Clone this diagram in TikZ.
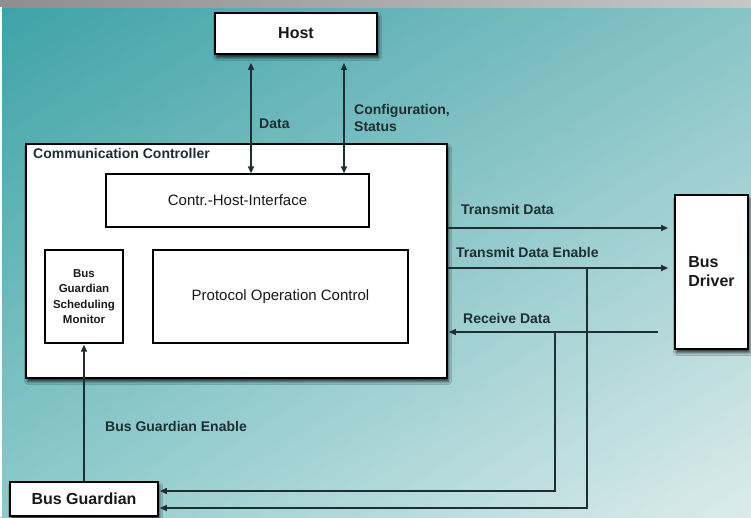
\documentclass[tikz,border=0pt]{standalone}
\usepackage{fontspec}
\setmainfont{Liberation Sans}
\usetikzlibrary{arrows.meta,shadows.blur,shadings,calc}

\definecolor{ink}{HTML}{1E2E33}
\definecolor{bgUL}{HTML}{3DA2A7}
\definecolor{bgUR}{HTML}{86C3C5}
\definecolor{bgLL}{HTML}{8DCACB}
\definecolor{bgLR}{HTML}{DCEBEC}
\definecolor{barL}{HTML}{8E8E8E}
\definecolor{barR}{HTML}{C6C6C6}

\begin{document}
\begin{tikzpicture}[x=1pt,y=-1pt,
  box/.style={draw=black, line width=1.3pt, fill=white, inner sep=0pt,
    text=black!90, font=\fontsize{15}{18}\selectfont},
  outer/.style={box, line width=1.8pt,
    blur shadow={shadow xshift=1.5pt, shadow yshift=-3.5pt,
      shadow blur radius=3pt, shadow blur steps=6, shadow opacity=80}},
  bold16/.style={font=\bfseries\fontsize{16}{19}\selectfont},
  link/.style={draw=ink, line width=1.3pt},
  tip/.style={-{Triangle[length=7pt,width=6pt]}},
  lab/.style={font=\bfseries\fontsize{14}{17}\selectfont, text=ink,
    inner sep=0pt, anchor=west, align=left},
]
% page background: teal gradient, grey title bar, thin white edge
\useasboundingbox (0,0) rectangle (751,517);
\shade[upper left=bgUL, upper right=bgUR, lower left=bgLL, lower right=bgLR]
  (0,0) rectangle (751,517);
\shade[left color=barL, right color=barR] (0,0) rectangle (751,7);
\fill[white] (0,7) rectangle (2,517);

% blocks
\node[outer, bold16, minimum width=162pt, minimum height=41pt] (host) at (296,33.5) {Host};
\node[outer, minimum width=421pt, minimum height=234pt] (cc) at (236.5,261) {};
\node[lab] (cclab) at (33,153) {Communication Controller};
\node[box, minimum width=263pt, minimum height=53pt] (chi) at (237.5,200.5) {Contr.-Host-Interface};
\node[box, align=center, font=\bfseries\fontsize{11.5}{15.5}\selectfont,
  minimum width=78pt, minimum height=93pt] (bgsm) at (84,296.5)
  {Bus\\Guardian\\Scheduling\\Monitor};
\node[box, minimum width=255pt, minimum height=93pt] (poc) at (280.5,296.5) {Protocol Operation Control};
\node[outer, bold16, align=left, minimum width=73pt, minimum height=154pt] (bd) at (711.5,272) {Bus\\Driver};
\node[outer, bold16, minimum width=148pt, minimum height=34pt] (bg) at (84,499) {Bus Guardian};

% reference points for the signal lines
\coordinate (xd) at (251,0);
\coordinate (xc) at (344,0);
\coordinate (ytx) at (0,228);
\coordinate (yte) at (0,268);
\coordinate (rx) at (658,332);
\coordinate (rxj) at (555,332);
\coordinate (tej) at (587,268);
\coordinate (yb1) at (0,491);
\coordinate (yb2) at (0,508);

% host interface
\draw[link, {Triangle[length=7pt,width=6pt]}-{Triangle[length=7pt,width=6pt]}, shorten <=8pt]
  (xd |- host.south) -- (xd |- chi.north);
\draw[link, {Triangle[length=7pt,width=6pt]}-{Triangle[length=7pt,width=6pt]}, shorten <=8pt]
  (xc |- host.south) -- (xc |- chi.north);
\node[lab] (ldata) at (259,124) {Data};
\node[lab] (lcfg) at (354,117.5) {Configuration,\\Status};

% bus driver interface
\draw[link, tip, shorten >=6pt] (cc.east |- ytx) -- (bd.west |- ytx);
\node[lab] (ltx) at (461,209) {Transmit Data};
\draw[link, tip, shorten >=6pt] (cc.east |- yte) -- (bd.west |- yte);
\node[lab] (lte) at (456,252) {Transmit Data Enable};
\draw[link, tip, shorten >=1pt] (rx) -- (rx -| cc.east);
\node[lab] (lrx) at (463,318) {Receive Data};

% bus guardian
\draw[link, tip, shorten >=1pt] (rxj) |- (bg.east |- yb1);
\draw[link, tip, shorten >=1pt] (tej) |- (bg.east |- yb2);
\draw[link, tip, shorten >=1pt] (bg.north) -- (bgsm.south);
\node[lab] (lbge) at (105,426) {Bus Guardian Enable};
\end{tikzpicture}
\end{document}
